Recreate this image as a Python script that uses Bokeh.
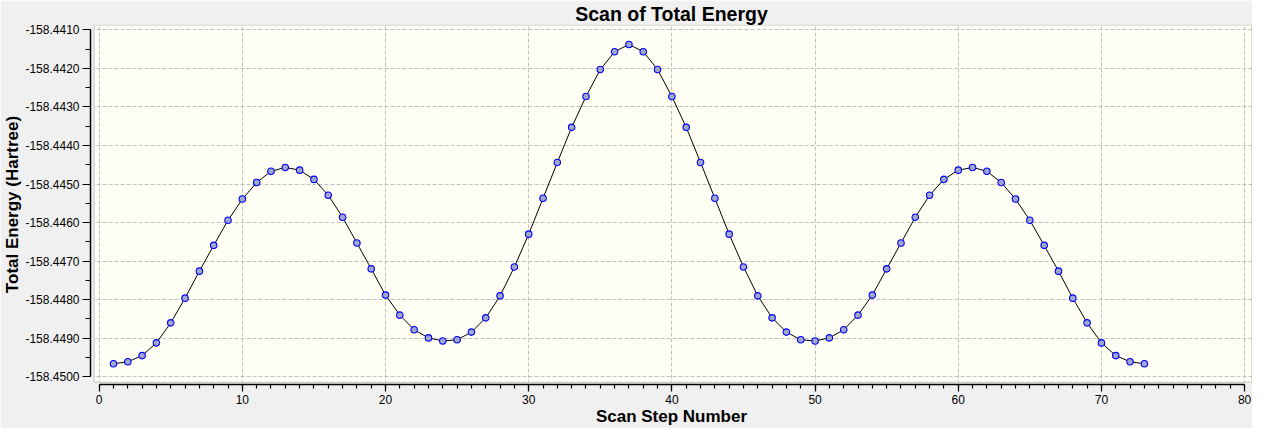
import numpy as np
from bokeh.plotting import figure
from bokeh.models import Range1d, FixedTicker, BoxAnnotation, PrintfTickFormatter
from bokeh.embed import file_html
from bokeh.resources import INLINE

title_text = "Scan of Total Energy"
x_label = "Scan Step Number"
y_label = "Total Energy (Hartree)"

steps = [1, 2, 3, 4, 5, 6, 7, 8, 9, 10, 11, 12, 13, 14, 15, 16, 17, 18, 19, 20,
         21, 22, 23, 24, 25, 26, 27, 28, 29, 30, 31, 32, 33, 34, 35, 36, 37, 38, 39, 40,
         41, 42, 43, 44, 45, 46, 47, 48, 49, 50, 51, 52, 53, 54, 55, 56, 57, 58, 59, 60,
         61, 62, 63, 64, 65, 66, 67, 68, 69, 70, 71, 72, 73]

energy = [
    -158.44966, -158.44961, -158.44945, -158.44912, -158.44860, -158.44796, -158.44726,
    -158.44659, -158.44594, -158.44539, -158.44496, -158.44467, -158.44457, -158.44464,
    -158.44488, -158.44529, -158.44586, -158.44653, -158.44720, -158.44788, -158.44840,
    -158.44878, -158.44899, -158.44907, -158.44904, -158.44884, -158.44847, -158.44790,
    -158.44715, -158.44630, -158.44537, -158.44444, -158.44353, -158.44273, -158.44203,
    -158.44157, -158.44138, -158.44157, -158.44203, -158.44273, -158.44353, -158.44444,
    -158.44537, -158.44630, -158.44715, -158.44790, -158.44847, -158.44884, -158.44904,
    -158.44907, -158.44899, -158.44878, -158.44840, -158.44788, -158.44720, -158.44653,
    -158.44586, -158.44529, -158.44488, -158.44464, -158.44457, -158.44467, -158.44496,
    -158.44539, -158.44594, -158.44659, -158.44726, -158.44796, -158.44860, -158.44912,
    -158.44945, -158.44961, -158.44966,
]

x_ticks = [0, 10, 20, 30, 40, 50, 60, 70, 80]
y_ticks = [-158.4500, -158.4490, -158.4480, -158.4470, -158.4460,
           -158.4450, -158.4440, -158.4430, -158.4420, -158.4410]

x_minor = list(np.arange(x_ticks[0], x_ticks[-1] + 0.5, 1.0))
y_minor = list(np.round(np.arange(y_ticks[0], y_ticks[-1] + 1e-7, 0.0005), 5))

# view geometry (styling)
X0, X1 = -0.605, 80.55
Y0, Y1 = -158.450199, -158.440863
INNER_LEFT = -0.347
INNER_BOTTOM = -158.450140
INNER_RIGHT = 80.50
INNER_TOP = -158.440876

BG = "#f0f0f0"
FONT = "Liberation Sans"

p = figure(width=1252, height=428, output_backend="svg", toolbar_location=None,
           x_range=Range1d(X0, X1), y_range=Range1d(Y0, Y1),
           min_border_left=85, min_border_right=0, min_border_top=24, min_border_bottom=43)

p.background_fill_color = BG
p.border_fill_color = BG
p.outline_line_color = None

p.title.text = title_text
p.title.align = "center"
p.title.text_font = FONT
p.title.text_font_size = "19.5px"
p.title.text_font_style = "bold"
p.title.text_color = "#000000"
p.title.standoff = 0

inner = BoxAnnotation(left=INNER_LEFT, bottom=INNER_BOTTOM, fill_color="#fffff6", fill_alpha=1.0,
                      line_color=None, level="image")
p.add_layout(inner)

p.xaxis.ticker = FixedTicker(ticks=x_ticks, minor_ticks=x_minor)
p.yaxis.ticker = FixedTicker(ticks=y_ticks, minor_ticks=y_minor)
p.yaxis.formatter = PrintfTickFormatter(format="%.4f")
p.xaxis.bounds = (x_ticks[0], x_ticks[-1])
p.yaxis.bounds = (y_ticks[0], y_ticks[-1])

for g in (p.xgrid[0], p.ygrid[0]):
    g.grid_line_color = "#c0c0c0"
    g.grid_line_dash = "4 2"
    g.grid_line_width = 1

strip_left = BoxAnnotation(right=INNER_LEFT, fill_color=BG, fill_alpha=1.0, line_color=None, level="underlay")
strip_bottom = BoxAnnotation(top=INNER_BOTTOM, fill_color=BG, fill_alpha=1.0, line_color=None, level="underlay")
border = BoxAnnotation(left=INNER_LEFT, bottom=INNER_BOTTOM, right=INNER_RIGHT, top=INNER_TOP,
                       fill_alpha=0.0, line_color="#8a8a92", line_width=1.5, level="underlay")
p.add_layout(strip_left)
p.add_layout(strip_bottom)
p.add_layout(border)

for ax in (p.xaxis[0], p.yaxis[0]):
    ax.axis_line_color = "#000000"
    ax.axis_line_width = 1.5
    ax.major_tick_line_color = "#000000"
    ax.major_tick_line_width = 1.2
    ax.minor_tick_line_color = "#000000"
    ax.minor_tick_line_width = 1.2
    ax.major_tick_in = 0
    ax.minor_tick_in = 0
    ax.major_label_text_font = FONT
    ax.major_label_text_font_size = "12px"
    ax.major_label_text_color = "#000000"
    ax.axis_label_text_font = FONT
    ax.axis_label_text_font_style = "bold"
    ax.axis_label_text_font_size = "17px"
    ax.axis_label_text_color = "#000000"
    ax.axis_label_standoff = 0
    ax.major_label_standoff = 3

p.xaxis.axis_label = x_label
p.yaxis.axis_label = y_label
p.xaxis.major_tick_out = 7
p.xaxis.minor_tick_out = 4
p.yaxis.major_tick_out = 8
p.yaxis.minor_tick_out = 5

p.line(steps, energy, line_color="#000000", line_width=1)
p.scatter(steps, energy, marker="circle", size=6.5, fill_color="#a0a8c8", line_color="#0000ff", line_width=1.1)

open("out.html", "w").write(file_html(p, INLINE))
